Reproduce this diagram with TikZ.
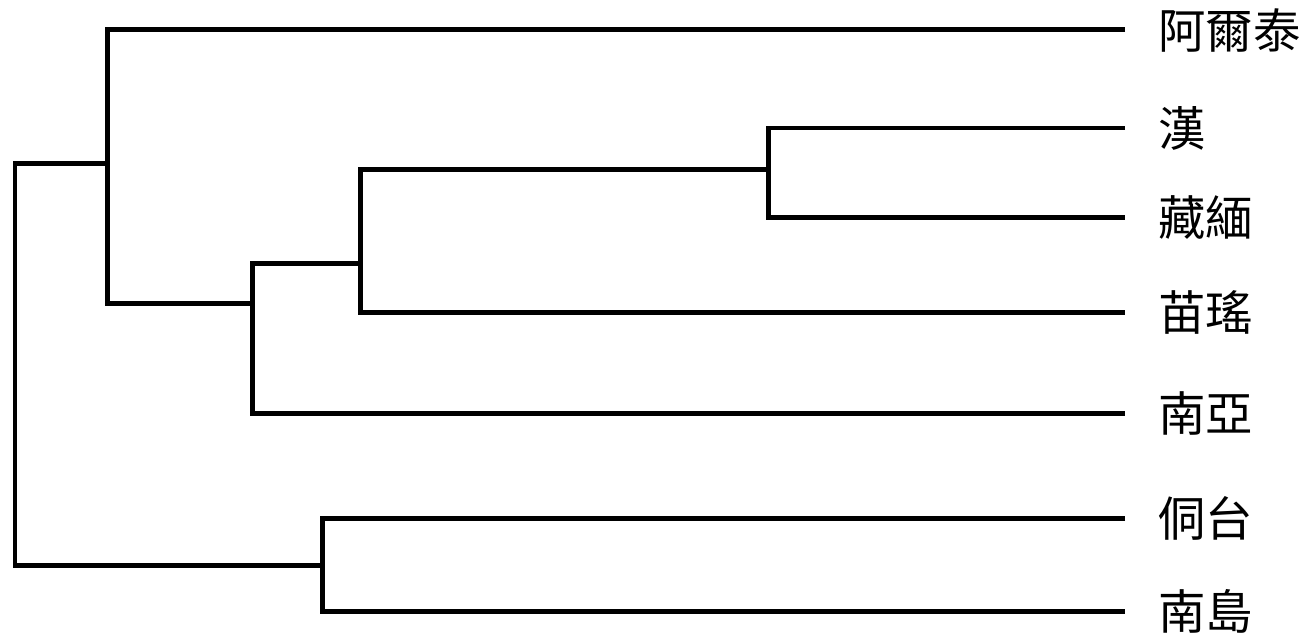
\documentclass[tikz,border=0pt]{standalone}
\usepackage{fontspec}
\newfontfamily\cjk{Noto Sans CJK TC}
\usepackage{tikz}
\usetikzlibrary{positioning}

\begin{document}
\begin{tikzpicture}[
    x=0.02cm, y=-0.02cm,
    leaf/.style={anchor=west, inner xsep=0.66cm, inner ysep=0pt, font=\cjk\fontsize{27}{29}\selectfont},
    branch/.style={line width=0.1cm, black, line join=miter}
  ]
    \useasboundingbox (0,0) rectangle (1304,635);

    % Leaves
    \node[leaf] (altaic) at (1125,30) {阿爾泰};
    \node[leaf] (han) at (1125,128) {漢};
    \node[leaf] (tibbur) at (1125,217) {藏緬};
    \node[leaf] (miaoyao) at (1125,312) {苗瑤};
    \node[leaf] (austroas) at (1125,413) {南亞};
    \node[leaf] (kradai) at (1125,518) {侗台};
    \node[leaf] (austron) at (1125,611) {南島};

    % Inner splits
    \coordinate (sinotib) at (768,169);
    \coordinate (stmy) at (360,263);
    \coordinate (staa) at (252,303);
    \coordinate (altrest) at (107,163);
    \coordinate (kdan) at (322,565);
    \coordinate (root) at (15,360);

    % Branches
    \draw[branch] (han.west) -| (sinotib) |- (tibbur.west);
    \draw[branch] (sinotib) -| (stmy) |- (miaoyao.west);
    \draw[branch] (stmy) -| (staa) |- (austroas.west);
    \draw[branch] (altaic.west) -| (altrest) |- (staa);
    \draw[branch] (kradai.west) -| (kdan) |- (austron.west);
    \draw[branch] (altrest) -| (root) |- (kdan);
\end{tikzpicture}
\end{document}
